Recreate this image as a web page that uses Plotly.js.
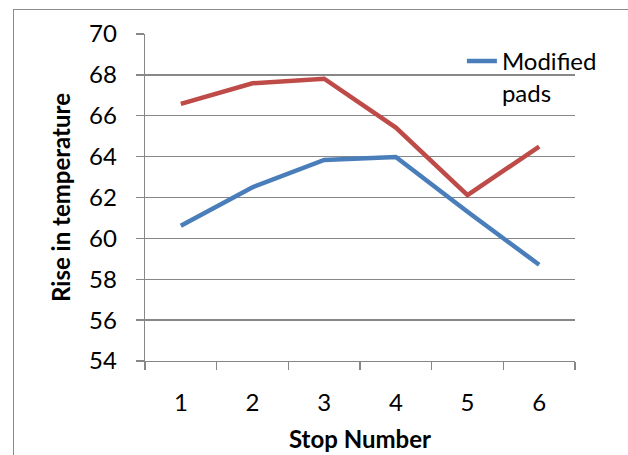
<!DOCTYPE html>
<html><head><meta charset="utf-8">
<script src="https://cdn.plot.ly/plotly-3.0.1.min.js"></script>
<style>
html,body{margin:0;padding:0;background:#fff;}
#wrap{position:relative;width:628px;height:455px;overflow:hidden;}
#frame{position:absolute;left:13px;top:9px;width:700px;height:500px;border-left:1.5px solid #8c8c8c;border-top:1.5px solid #8c8c8c;pointer-events:none;}
#chart{position:absolute;left:0;top:0;width:628px;height:455px;}
</style>
</head><body>
<div id="wrap"><div id="chart"></div><div id="frame"></div></div>
<script>
var stops = ['1','2','3','4','5','6'];
var originalPads = [66.58, 67.59, 67.81, 65.42, 62.12, 64.49];
var modifiedPads = [60.62, 62.5, 63.84, 63.98, 61.3, 58.71];
var yTicks = [54, 56, 58, 60, 62, 64, 66, 68, 70];

var FONT = 'Lato, "Open Sans", sans-serif';
var traces = [
  {x: stops, y: originalPads, type: 'scatter', mode: 'lines', name: 'Original pads',
   showlegend: false, line: {color: '#be4b48', width: 4.5}},
  {x: stops, y: modifiedPads, type: 'scatter', mode: 'lines', name: 'Modified<br>pads',
   line: {color: '#4a7ebb', width: 4.5}}
];
var layout = {
  width: 628, height: 455,
  margin: {l: 145, r: 53, t: 34, b: 94},
  paper_bgcolor: '#fff', plot_bgcolor: '#fff',
  font: {family: FONT, size: 24, color: '#000'},
  showlegend: true,
  legend: {x: 0.737, y: 0.985, xanchor: 'left', yanchor: 'top', valign: 'top', bgcolor: 'rgba(0,0,0,0)',
           font: {family: FONT, size: 24, color: '#000'}, tracegroupgap: 0, itemwidth: 30},
  xaxis: {
    type: 'category', range: [-0.5, 5.5], tickson: 'boundaries', ticks: 'outside', ticklen: 8, tickwidth: 1.3,
    tickcolor: '#878787', showline: true, linecolor: '#878787', linewidth: 1.3,
    showgrid: false, zeroline: false, ticklabelstandoff: 20,
    tickfont: {family: FONT, size: 24, color: '#000'},
    title: {text: 'Stop Number', standoff: 16, font: {family: FONT, size: 24, color: '#000', weight: 'bold'}}
  },
  yaxis: {
    range: [54, 70], tickvals: yTicks, ticktext: yTicks.map(String),
    ticks: 'outside', ticklen: 8, tickwidth: 1.3, tickcolor: '#878787',
    showline: true, linecolor: '#878787', linewidth: 1.3,
    showgrid: true, gridcolor: '#878787', gridwidth: 1.3, zeroline: false,
    ticklabelstandoff: 14,
    tickfont: {family: FONT, size: 24, color: '#000'},
    title: {text: 'Rise in temperature', standoff: 11, font: {family: FONT, size: 24, color: '#000', weight: 'bold'}}
  }
};
Plotly.newPlot('chart', traces, layout, {displayModeBar: false, staticPlot: true});
</script>
</body></html>
